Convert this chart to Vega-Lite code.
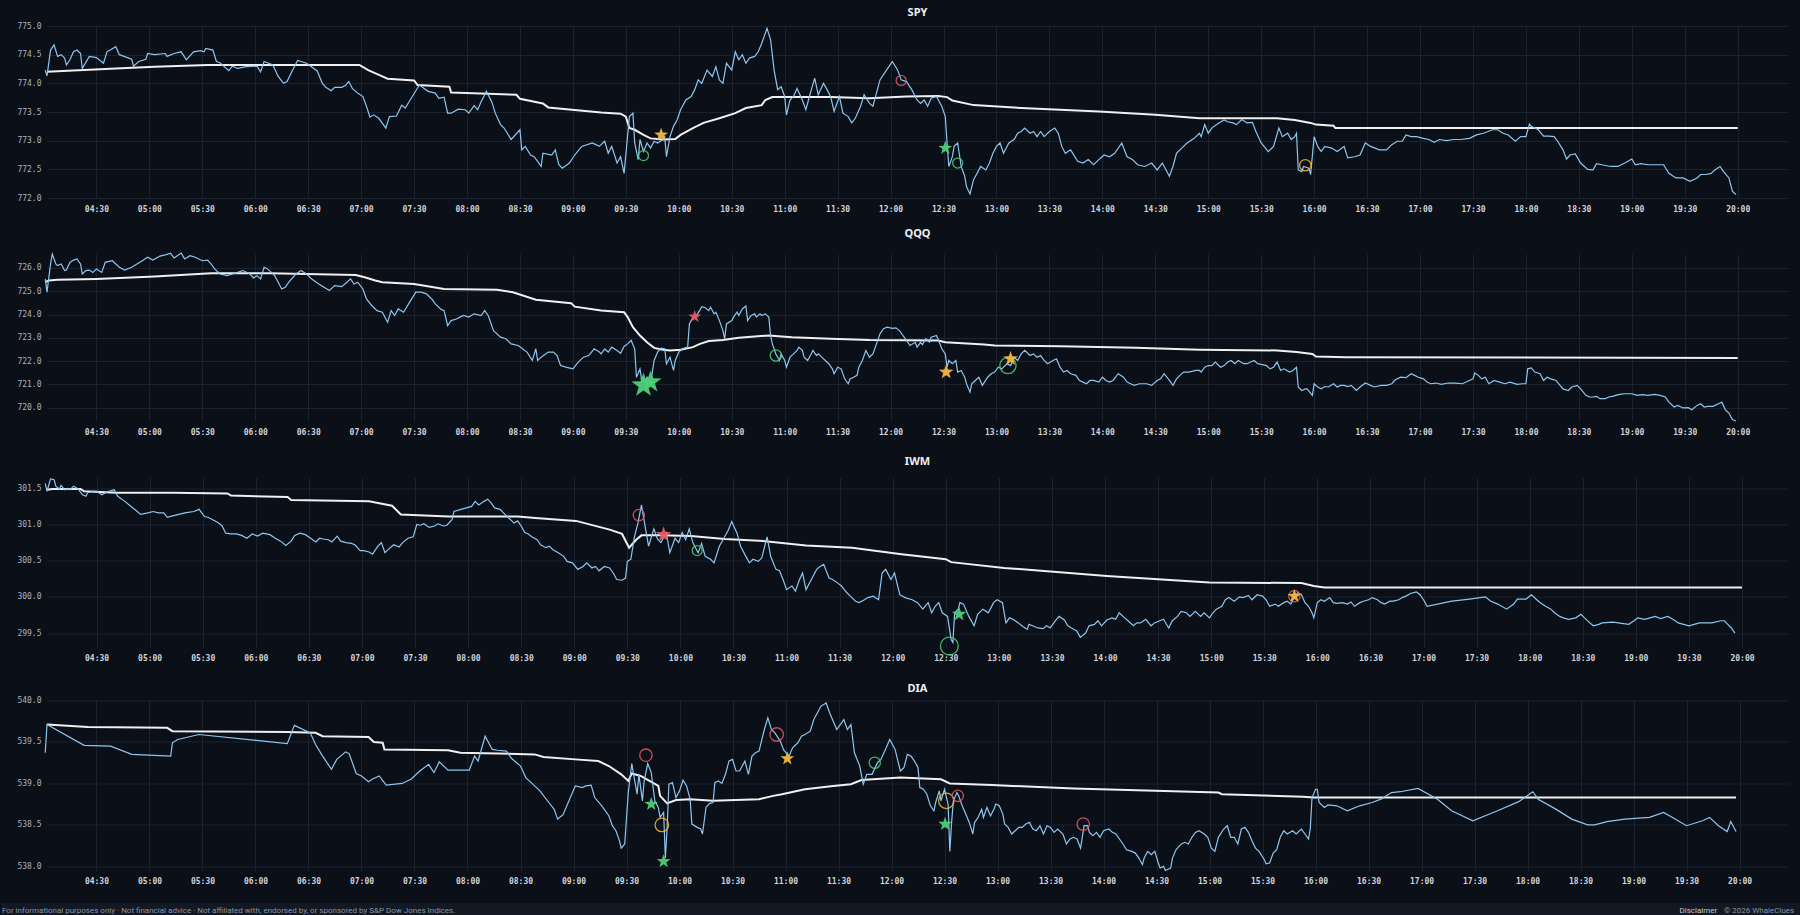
{
  "$schema": "https://vega.github.io/schema/vega-lite/v6.json",
  "background": "#0b0f18",
  "padding": {"left": 0, "top": 7, "right": 0, "bottom": 0},
  "spacing": 17,
  "datasets": {
    "spy": [
      {"m":241,"v":774.23},{"m":242,"v":774.13},{"m":244,"v":774.58},{"m":246,"v":774.67},{"m":248,"v":774.47},{"m":250,"v":774.50},{"m":252,"v":774.44},{"m":253,"v":774.32},{"m":255,"v":774.41},{"m":257,"v":774.55},{"m":259,"v":774.58},{"m":261,"v":774.52},{"m":262,"v":774.26},{"m":266,"v":774.47},{"m":270,"v":774.45},{"m":274,"v":774.35},{"m":276,"v":774.55},{"m":281,"v":774.64},{"m":283,"v":774.50},{"m":290,"v":774.42},{"m":291,"v":774.30},{"m":294,"v":774.38},{"m":298,"v":774.42},{"m":299,"v":774.52},{"m":303,"v":774.50},{"m":309,"v":774.52},{"m":310,"v":774.47},{"m":314,"v":774.52},{"m":318,"v":774.55},{"m":321,"v":774.41},{"m":325,"v":774.55},{"m":329,"v":774.57},{"m":331,"v":774.55},{"m":332,"v":774.61},{"m":336,"v":774.58},{"m":338,"v":774.38},{"m":340,"v":774.36},{"m":345,"v":774.22},{"m":347,"v":774.30},{"m":350,"v":774.26},{"m":355,"v":774.29},{"m":361,"v":774.30},{"m":363,"v":774.20},{"m":365,"v":774.38},{"m":370,"v":774.32},{"m":373,"v":774.12},{"m":376,"v":774.0},{"m":378,"v":774.03},{"m":381,"v":774.22},{"m":384,"v":774.40},{"m":389,"v":774.35},{"m":395,"v":774.22},{"m":396,"v":774.15},{"m":398,"v":774.0},{"m":400,"v":773.93},{"m":403,"v":773.87},{"m":405,"v":773.93},{"m":409,"v":773.93},{"m":411,"v":773.96},{"m":413,"v":774.03},{"m":415,"v":773.91},{"m":418,"v":773.83},{"m":421,"v":773.77},{"m":423,"v":773.60},{"m":425,"v":773.41},{"m":427,"v":773.45},{"m":430,"v":773.39},{"m":434,"v":773.22},{"m":436,"v":773.42},{"m":440,"v":773.43},{"m":443,"v":773.62},{"m":445,"v":773.57},{"m":449,"v":773.77},{"m":453,"v":773.97},{"m":458,"v":773.86},{"m":462,"v":773.83},{"m":464,"v":773.74},{"m":467,"v":773.76},{"m":469,"v":773.48},{"m":471,"v":773.48},{"m":475,"v":773.55},{"m":479,"v":773.54},{"m":481,"v":773.48},{"m":484,"v":773.61},{"m":486,"v":773.54},{"m":488,"v":773.68},{"m":491,"v":773.86},{"m":494,"v":773.68},{"m":496,"v":773.48},{"m":499,"v":773.28},{"m":501,"v":773.22},{"m":505,"v":773.02},{"m":510,"v":773.19},{"m":511,"v":772.84},{"m":513,"v":772.90},{"m":516,"v":772.75},{"m":518,"v":772.72},{"m":520,"v":772.64},{"m":522,"v":772.55},{"m":523,"v":772.78},{"m":528,"v":772.75},{"m":530,"v":772.84},{"m":532,"v":772.58},{"m":534,"v":772.52},{"m":538,"v":772.61},{"m":541,"v":772.75},{"m":545,"v":772.90},{"m":551,"v":772.96},{"m":555,"v":772.90},
      {"m":556,"v":772.93},{"m":558,"v":772.99},{"m":560,"v":772.78},{"m":562,"v":772.90},{"m":565,"v":772.61},{"m":567,"v":772.72},{"m":569,"v":772.43},{"m":572,"v":773.42},{"m":574,"v":773.48},{"m":575,"v":772.96},{"m":577,"v":772.67},{"m":578,"v":773.02},{"m":580,"v":772.81},{"m":582,"v":772.96},{"m":584,"v":772.87},{"m":586,"v":772.99},{"m":588,"v":772.96},{"m":591,"v":773.02},{"m":592,"v":773.07},{"m":593,"v":772.72},{"m":595,"v":773.07},{"m":597,"v":773.25},{"m":599,"v":773.36},{"m":601,"v":773.54},{"m":604,"v":773.71},{"m":607,"v":773.77},{"m":609,"v":773.89},{"m":611,"v":774.06},{"m":613,"v":774.0},{"m":616,"v":774.23},{"m":619,"v":774.12},{"m":621,"v":774.29},{"m":623,"v":774.06},{"m":625,"v":774.0},{"m":627,"v":774.35},{"m":630,"v":774.23},{"m":632,"v":774.55},{"m":634,"v":774.41},{"m":636,"v":774.50},{"m":638,"v":774.35},{"m":640,"v":774.44},{"m":643,"v":774.47},{"m":645,"v":774.55},{"m":647,"v":774.70},{"m":650,"v":774.96},{"m":652,"v":774.76},{"m":654,"v":774.23},{"m":656,"v":773.89},{"m":658,"v":773.94},{"m":660,"v":773.77},{"m":661,"v":773.45},{"m":663,"v":773.71},{"m":665,"v":773.77},{"m":667,"v":773.91},{"m":670,"v":773.71},{"m":672,"v":773.54},{"m":674,"v":773.77},{"m":677,"v":774.09},{"m":679,"v":773.80},{"m":682,"v":774.0},{"m":684,"v":773.89},{"m":686,"v":773.77},{"m":688,"v":773.51},{"m":691,"v":773.77},{"m":693,"v":773.48},{"m":696,"v":773.42},{"m":698,"v":773.31},{"m":700,"v":773.39},{"m":703,"v":773.60},{"m":705,"v":773.80},{"m":708,"v":773.65},{"m":710,"v":773.60},{"m":712,"v":773.83},{"m":714,"v":774.06},{"m":717,"v":774.20},{"m":721,"v":774.38},{"m":724,"v":774.23},{"m":726,"v":774.06},{"m":729,"v":774.03},{"m":732,"v":773.89},{"m":735,"v":773.71},{"m":737,"v":773.65},{"m":739,"v":773.71},{"m":741,"v":773.60},{"m":743,"v":773.74},{"m":746,"v":773.77},{"m":749,"v":773.60},{"m":751,"v":773.42},{"m":752,"v":772.96},{"m":753,"v":772.55},{"m":755,"v":772.72},{"m":756,"v":772.90},{"m":758,"v":772.96},{"m":760,"v":772.55},{"m":762,"v":772.38},{"m":763,"v":772.20},{"m":765,"v":772.07},{"m":767,"v":772.32},{"m":769,"v":772.43},{"m":771,"v":772.55},{"m":774,"v":772.49},{"m":776,"v":772.61},{"m":778,"v":772.78},{"m":780,"v":772.90},{"m":782,"v":772.96},{"m":784,"v":772.78},{"m":787,"v":772.96},{"m":790,"v":773.02},{"m":792,"v":773.13},{"m":794,"v":773.16},{"m":796,"v":773.22},{"m":799,"v":773.13},{"m":801,"v":773.16},{"m":803,"v":773.07},{"m":805,"v":773.16},{"m":807,"v":773.07},{"m":810,"v":773.16},{"m":813,"v":773.22},{"m":815,"v":773.13},{"m":817,"v":772.90},{"m":819,"v":772.78},{"m":822,"v":772.84},{"m":826,"v":772.64},{"m":829,"v":772.61},{"m":832,"v":772.67},{"m":835,"v":772.58},{"m":838,"v":772.67},{"m":841,"v":772.75},{"m":844,"v":772.72},{"m":847,"v":772.78},{"m":851,"v":772.96},{"m":854,"v":772.72},{"m":857,"v":772.67},{"m":860,"v":772.58},{"m":864,"v":772.55},{"m":868,"v":772.61},{"m":871,"v":772.49},{"m":874,"v":772.61},{"m":878,"v":772.38},{"m":880,"v":772.55},{"m":882,"v":772.78},{"m":885,"v":772.87},{"m":888,"v":772.96},{"m":892,"v":773.04},{"m":895,"v":773.13},
      {"m":896,"v":773.07},{"m":898,"v":773.28},{"m":900,"v":773.13},{"m":902,"v":773.22},{"m":906,"v":773.31},{"m":909,"v":773.36},{"m":911,"v":773.33},{"m":914,"v":773.31},{"m":916,"v":773.28},{"m":919,"v":773.37},{"m":922,"v":773.31},{"m":925,"v":773.32},{"m":927,"v":773.16},{"m":930,"v":772.96},{"m":934,"v":772.81},{"m":937,"v":772.90},{"m":940,"v":773.22},{"m":942,"v":773.07},{"m":945,"v":773.13},{"m":947,"v":773.02},{"m":949,"v":773.07},{"m":950,"v":773.13},{"m":951,"v":772.49},{"m":953,"v":772.46},{"m":954,"v":772.55},{"m":957,"v":772.52},{"m":958,"v":772.41},{"m":960,"v":773.07},{"m":962,"v":772.90},{"m":964,"v":772.81},{"m":966,"v":772.90},{"m":970,"v":772.87},{"m":973,"v":772.81},{"m":977,"v":772.90},{"m":979,"v":772.70},{"m":983,"v":772.72},{"m":986,"v":772.75},{"m":989,"v":772.96},{"m":992,"v":772.90},{"m":997,"v":772.84},{"m":1001,"v":772.84},{"m":1004,"v":772.93},{"m":1007,"v":772.99},{"m":1010,"v":772.99},{"m":1012,"v":773.10},{"m":1015,"v":773.07},{"m":1018,"v":773.07},{"m":1022,"v":773.04},{"m":1025,"v":773.02},{"m":1028,"v":772.97},{"m":1031,"v":773.02},{"m":1035,"v":773.00},{"m":1039,"v":773.02},{"m":1043,"v":773.02},{"m":1048,"v":773.04},{"m":1052,"v":773.10},{"m":1056,"v":773.13},{"m":1061,"v":773.19},{"m":1064,"v":773.19},{"m":1067,"v":773.13},{"m":1070,"v":773.10},{"m":1074,"v":772.99},{"m":1077,"v":773.07},{"m":1080,"v":773.07},{"m":1082,"v":773.29},{"m":1083,"v":773.25},{"m":1087,"v":773.19},{"m":1090,"v":773.08},{"m":1093,"v":773.08},{"m":1096,"v":773.07},{"m":1098,"v":772.99},{"m":1101,"v":772.84},{"m":1103,"v":772.68},{"m":1105,"v":772.75},{"m":1108,"v":772.77},{"m":1111,"v":772.61},{"m":1115,"v":772.50},{"m":1118,"v":772.49},{"m":1120,"v":772.60},{"m":1123,"v":772.58},{"m":1128,"v":772.55},{"m":1132,"v":772.55},{"m":1136,"v":772.61},{"m":1140,"v":772.68},{"m":1142,"v":772.58},{"m":1145,"v":772.60},{"m":1149,"v":772.58},{"m":1153,"v":772.58},{"m":1158,"v":772.58},{"m":1161,"v":772.43},{"m":1165,"v":772.35},{"m":1169,"v":772.35},{"m":1173,"v":772.29},{"m":1177,"v":772.35},{"m":1179,"v":772.41},{"m":1182,"v":772.41},{"m":1185,"v":772.43},{"m":1187,"v":772.49},{"m":1190,"v":772.55},{"m":1192,"v":772.46},{"m":1195,"v":772.35},{"m":1197,"v":772.12},{"m":1199,"v":772.06}
    ],
    "spyV": [
      {"m":242,"v":774.20},{"m":281,"v":774.26},{"m":303,"v":774.29},{"m":333,"v":774.32},{"m":419,"v":774.32},{"m":424,"v":774.23},{"m":432,"v":774.12},{"m":435,"v":774.08},{"m":450,"v":774.05},{"m":452,"v":773.97},{"m":470,"v":773.94},{"m":471,"v":773.84},{"m":508,"v":773.80},{"m":510,"v":773.73},{"m":523,"v":773.65},{"m":526,"v":773.58},{"m":556,"v":773.49},{"m":567,"v":773.47},{"m":570,"v":773.42},{"m":572,"v":773.22},{"m":575,"v":773.19},{"m":580,"v":773.10},{"m":584,"v":773.04},{"m":591,"v":773.02},{"m":598,"v":773.03},{"m":601,"v":773.10},{"m":608,"v":773.22},{"m":614,"v":773.31},{"m":623,"v":773.39},{"m":632,"v":773.48},{"m":638,"v":773.57},{"m":647,"v":773.62},{"m":649,"v":773.71},{"m":653,"v":773.76},{"m":686,"v":773.76},{"m":708,"v":773.74},{"m":729,"v":773.77},{"m":747,"v":773.78},{"m":752,"v":773.76},{"m":755,"v":773.70},{"m":767,"v":773.62},{"m":794,"v":773.57},{"m":838,"v":773.51},{"m":870,"v":773.45},{"m":895,"v":773.39},{"m":939,"v":773.39},{"m":949,"v":773.36},{"m":958,"v":773.31},{"m":961,"v":773.28},{"m":971,"v":773.26},{"m":972,"v":773.22},{"m":1200,"v":773.22}
    ],
    "spyS": [
      {"m":590,"v":773.10,"type":"star","side":"mixed","w":1.4},
      {"m":580,"v":772.74,"type":"circle","side":"bull","w":1},
      {"m":726,"v":774.05,"type":"circle","side":"bear","w":1},
      {"m":751,"v":772.87,"type":"star","side":"bull","w":1.4},
      {"m":758,"v":772.61,"type":"circle","side":"bull","w":1},
      {"m":955,"v":772.57,"type":"circle","side":"mixed","w":1.1}
    ],
    "qqq": [
      {"m":241,"v":725.53},{"m":242,"v":724.96},{"m":244,"v":726.17},{"m":245,"v":726.60},{"m":247,"v":726.17},{"m":248,"v":726.10},{"m":250,"v":726.17},{"m":252,"v":725.89},{"m":253,"v":725.91},{"m":255,"v":726.24},{"m":257,"v":726.34},{"m":259,"v":726.39},{"m":261,"v":726.17},{"m":262,"v":725.74},{"m":264,"v":725.89},{"m":266,"v":725.91},{"m":268,"v":725.81},{"m":270,"v":725.96},{"m":273,"v":725.81},{"m":275,"v":726.24},{"m":279,"v":726.31},{"m":281,"v":726.17},{"m":283,"v":726.03},{"m":286,"v":725.91},{"m":290,"v":726.03},{"m":293,"v":726.17},{"m":296,"v":726.31},{"m":299,"v":726.46},{"m":302,"v":726.34},{"m":306,"v":726.51},{"m":309,"v":726.56},{"m":312,"v":726.63},{"m":314,"v":726.43},{"m":318,"v":726.64},{"m":320,"v":726.39},{"m":323,"v":726.53},{"m":326,"v":726.46},{"m":330,"v":726.31},{"m":333,"v":726.34},{"m":335,"v":726.17},{"m":337,"v":725.96},{"m":340,"v":725.74},{"m":344,"v":725.67},{"m":347,"v":725.74},{"m":350,"v":725.81},{"m":353,"v":725.89},{"m":357,"v":725.74},{"m":359,"v":725.57},{"m":361,"v":725.67},{"m":363,"v":725.53},{"m":365,"v":726.03},{"m":367,"v":725.96},{"m":371,"v":725.67},{"m":373,"v":725.39},{"m":375,"v":725.10},{"m":377,"v":725.17},{"m":379,"v":725.39},{"m":383,"v":725.74},{"m":386,"v":725.89},{"m":389,"v":725.74},{"m":392,"v":725.53},{"m":396,"v":725.31},{"m":399,"v":725.17},{"m":402,"v":725.03},{"m":405,"v":725.24},{"m":409,"v":725.20},{"m":412,"v":725.39},{"m":414,"v":725.53},{"m":416,"v":725.31},{"m":418,"v":725.39},{"m":421,"v":725.10},{"m":423,"v":724.67},{"m":426,"v":724.39},{"m":429,"v":724.17},{"m":432,"v":724.10},{"m":435,"v":723.67},{"m":437,"v":724.17},{"m":439,"v":723.96},{"m":441,"v":724.24},{"m":444,"v":724.10},{"m":448,"v":724.60},{"m":451,"v":724.96},{"m":454,"v":724.96},{"m":457,"v":724.89},{"m":460,"v":724.67},{"m":462,"v":724.46},{"m":465,"v":724.24},{"m":467,"v":724.17},{"m":469,"v":723.53},{"m":471,"v":723.74},{"m":474,"v":723.81},{"m":476,"v":723.89},{"m":478,"v":723.96},{"m":481,"v":723.89},{"m":484,"v":724.03},{"m":488,"v":723.96},{"m":490,"v":724.17},{"m":492,"v":723.96},{"m":495,"v":723.31},{"m":499,"v":723.03},{"m":502,"v":722.96},{"m":505,"v":722.74},{"m":509,"v":722.67},{"m":514,"v":722.39},{"m":517,"v":722.03},{"m":519,"v":722.53},{"m":520,"v":722.03},{"m":522,"v":722.17},{"m":526,"v":722.39},{"m":529,"v":722.39},{"m":531,"v":722.24},{"m":533,"v":721.81},{"m":536,"v":721.74},{"m":540,"v":721.67},{"m":543,"v":721.96},{"m":546,"v":722.17},{"m":549,"v":722.24},{"m":552,"v":722.53},{"m":555,"v":722.39},
      {"m":556,"v":722.31},{"m":558,"v":722.53},{"m":560,"v":722.39},{"m":562,"v":722.60},{"m":565,"v":722.46},{"m":567,"v":722.34},{"m":569,"v":722.63},{"m":571,"v":722.74},{"m":573,"v":722.89},{"m":575,"v":722.53},{"m":576,"v":721.31},{"m":578,"v":721.67},{"m":579,"v":721.17},{"m":581,"v":721.10},{"m":582,"v":721.31},{"m":584,"v":721.03},{"m":586,"v":722.03},{"m":588,"v":722.39},{"m":590,"v":722.56},{"m":592,"v":722.53},{"m":593,"v":721.89},{"m":595,"v":722.17},{"m":597,"v":721.60},{"m":598,"v":722.03},{"m":600,"v":722.39},{"m":602,"v":722.53},{"m":605,"v":722.60},{"m":606,"v":723.60},{"m":608,"v":723.89},{"m":610,"v":723.96},{"m":612,"v":724.20},{"m":613,"v":724.34},{"m":615,"v":724.29},{"m":617,"v":724.17},{"m":618,"v":724.31},{"m":620,"v":724.03},{"m":621,"v":724.10},{"m":623,"v":723.74},{"m":625,"v":723.31},{"m":626,"v":722.96},{"m":627,"v":723.60},{"m":630,"v":723.74},{"m":631,"v":723.89},{"m":633,"v":724.10},{"m":634,"v":723.96},{"m":636,"v":724.24},{"m":638,"v":724.37},{"m":639,"v":723.74},{"m":641,"v":723.96},{"m":643,"v":724.03},{"m":644,"v":723.89},{"m":646,"v":724.03},{"m":647,"v":723.96},{"m":649,"v":724.03},{"m":651,"v":723.89},{"m":652,"v":723.10},{"m":653,"v":722.74},{"m":655,"v":722.31},{"m":657,"v":722.03},{"m":658,"v":722.31},{"m":660,"v":722.03},{"m":661,"v":721.74},{"m":663,"v":722.17},{"m":665,"v":722.31},{"m":667,"v":722.46},{"m":668,"v":722.60},{"m":670,"v":722.46},{"m":671,"v":722.17},{"m":673,"v":722.03},{"m":675,"v":722.31},{"m":676,"v":722.46},{"m":678,"v":722.24},{"m":679,"v":722.31},{"m":681,"v":722.17},{"m":683,"v":722.03},{"m":685,"v":721.89},{"m":687,"v":721.67},{"m":688,"v":721.46},{"m":690,"v":721.74},{"m":692,"v":721.67},{"m":694,"v":721.24},{"m":696,"v":721.03},{"m":697,"v":721.24},{"m":699,"v":721.31},{"m":701,"v":721.39},{"m":702,"v":721.74},{"m":704,"v":722.03},{"m":706,"v":722.46},{"m":708,"v":722.17},{"m":710,"v":722.31},{"m":712,"v":722.74},{"m":714,"v":723.17},{"m":716,"v":723.39},{"m":718,"v":723.46},{"m":721,"v":723.41},{"m":723,"v":723.43},{"m":725,"v":723.31},{"m":727,"v":723.10},{"m":729,"v":722.89},{"m":731,"v":722.67},{"m":734,"v":722.81},{"m":735,"v":722.60},{"m":737,"v":722.81},{"m":738,"v":722.71},{"m":740,"v":722.96},{"m":742,"v":722.81},{"m":743,"v":723.03},{"m":746,"v":723.10},{"m":748,"v":722.74},{"m":749,"v":722.53},{"m":751,"v":722.31},{"m":752,"v":721.74},{"m":753,"v":722.03},{"m":755,"v":721.89},{"m":757,"v":722.03},{"m":758,"v":721.53},{"m":760,"v":721.60},{"m":762,"v":721.31},{"m":763,"v":721.03},{"m":765,"v":720.67},{"m":766,"v":721.03},{"m":768,"v":721.17},{"m":770,"v":721.31},{"m":772,"v":720.96},{"m":775,"v":721.31},{"m":777,"v":721.46},{"m":779,"v":721.53},{"m":781,"v":721.74},{"m":783,"v":721.67},{"m":786,"v":721.89},{"m":788,"v":721.81},{"m":790,"v":722.17},{"m":792,"v":722.03},{"m":794,"v":722.31},{"m":796,"v":722.46},{"m":799,"v":722.24},{"m":801,"v":722.31},{"m":803,"v":722.17},{"m":805,"v":722.24},{"m":807,"v":722.03},{"m":809,"v":721.89},{"m":812,"v":722.03},{"m":814,"v":722.10},{"m":816,"v":721.74},{"m":818,"v":721.53},{"m":820,"v":721.60},{"m":822,"v":721.46},{"m":825,"v":721.39},{"m":827,"v":721.17},{"m":829,"v":721.10},{"m":831,"v":721.03},{"m":833,"v":721.17},{"m":835,"v":721.17},{"m":838,"v":721.10},{"m":840,"v":721.31},{"m":842,"v":721.17},{"m":844,"v":721.10},{"m":846,"v":721.17},{"m":849,"v":721.46},{"m":852,"v":721.31},{"m":854,"v":721.10},{"m":856,"v":721.03},{"m":858,"v":720.96},{"m":861,"v":721.03},{"m":865,"v":721.03},{"m":868,"v":720.96},{"m":871,"v":721.17},{"m":873,"v":721.24},{"m":875,"v":721.46},{"m":878,"v":721.17},{"m":880,"v":720.96},{"m":882,"v":721.24},{"m":884,"v":721.39},{"m":886,"v":721.53},{"m":889,"v":721.53},{"m":893,"v":721.60},{"m":895,"v":721.60},
      {"m":896,"v":721.53},{"m":898,"v":721.74},{"m":900,"v":721.81},{"m":902,"v":721.81},{"m":904,"v":721.96},{"m":907,"v":721.74},{"m":909,"v":721.81},{"m":911,"v":721.96},{"m":913,"v":722.03},{"m":915,"v":721.89},{"m":917,"v":722.03},{"m":920,"v":721.89},{"m":922,"v":721.89},{"m":924,"v":721.96},{"m":926,"v":722.03},{"m":928,"v":721.89},{"m":930,"v":721.86},{"m":933,"v":721.81},{"m":935,"v":721.67},{"m":937,"v":721.74},{"m":939,"v":721.96},{"m":941,"v":721.60},{"m":943,"v":721.67},{"m":946,"v":721.53},{"m":948,"v":721.60},{"m":950,"v":721.74},{"m":951,"v":720.89},{"m":953,"v":720.74},{"m":955,"v":720.81},{"m":956,"v":720.81},{"m":959,"v":720.53},{"m":960,"v":721.03},{"m":962,"v":720.89},{"m":964,"v":720.81},{"m":966,"v":720.91},{"m":968,"v":720.89},{"m":971,"v":721.03},{"m":973,"v":720.89},{"m":975,"v":720.96},{"m":977,"v":720.96},{"m":979,"v":720.91},{"m":981,"v":720.96},{"m":984,"v":720.74},{"m":986,"v":720.89},{"m":989,"v":721.06},{"m":992,"v":720.96},{"m":994,"v":720.89},{"m":998,"v":720.96},{"m":1001,"v":720.96},{"m":1004,"v":721.03},{"m":1006,"v":721.20},{"m":1009,"v":721.31},{"m":1012,"v":721.29},{"m":1015,"v":721.46},{"m":1017,"v":721.39},{"m":1019,"v":721.31},{"m":1022,"v":721.24},{"m":1024,"v":721.10},{"m":1026,"v":721.03},{"m":1029,"v":721.06},{"m":1032,"v":721.0},{"m":1036,"v":721.06},{"m":1040,"v":721.06},{"m":1044,"v":721.03},{"m":1048,"v":721.17},{"m":1050,"v":721.24},{"m":1051,"v":721.49},{"m":1053,"v":721.39},{"m":1055,"v":721.24},{"m":1057,"v":721.31},{"m":1059,"v":721.03},{"m":1062,"v":721.17},{"m":1065,"v":721.10},{"m":1068,"v":721.03},{"m":1071,"v":721.10},{"m":1075,"v":721.0},{"m":1078,"v":721.03},{"m":1080,"v":721.03},{"m":1081,"v":721.67},{"m":1083,"v":721.71},{"m":1085,"v":721.53},{"m":1088,"v":721.46},{"m":1090,"v":721.17},{"m":1092,"v":721.31},{"m":1094,"v":721.24},{"m":1097,"v":721.17},{"m":1101,"v":720.81},{"m":1104,"v":720.74},{"m":1106,"v":720.89},{"m":1109,"v":720.96},{"m":1111,"v":720.81},{"m":1114,"v":720.53},{"m":1116,"v":720.46},{"m":1118,"v":720.46},{"m":1120,"v":720.49},{"m":1122,"v":720.39},{"m":1125,"v":720.39},{"m":1127,"v":720.46},{"m":1129,"v":720.49},{"m":1131,"v":720.53},{"m":1133,"v":720.57},{"m":1136,"v":720.60},{"m":1140,"v":720.60},{"m":1143,"v":720.53},{"m":1146,"v":720.56},{"m":1149,"v":720.53},{"m":1153,"v":720.57},{"m":1156,"v":720.53},{"m":1159,"v":720.46},{"m":1161,"v":720.24},{"m":1164,"v":720.03},{"m":1166,"v":720.10},{"m":1169,"v":719.99},{"m":1172,"v":720.0},{"m":1174,"v":719.91},{"m":1177,"v":720.10},{"m":1179,"v":720.17},{"m":1181,"v":720.03},{"m":1183,"v":720.06},{"m":1186,"v":720.06},{"m":1190,"v":720.20},{"m":1191,"v":720.24},{"m":1193,"v":719.91},{"m":1195,"v":719.77},{"m":1197,"v":719.49},{"m":1199,"v":719.43}
    ],
    "qqqV": [
      {"m":241,"v":725.39},{"m":243,"v":725.46},{"m":248,"v":725.49},{"m":270,"v":725.53},{"m":303,"v":725.63},{"m":335,"v":725.77},{"m":368,"v":725.77},{"m":417,"v":725.70},{"m":422,"v":725.60},{"m":428,"v":725.46},{"m":432,"v":725.39},{"m":450,"v":725.31},{"m":467,"v":725.10},{"m":497,"v":725.06},{"m":506,"v":724.96},{"m":519,"v":724.64},{"m":539,"v":724.49},{"m":541,"v":724.34},{"m":556,"v":724.17},{"m":569,"v":724.10},{"m":571,"v":723.89},{"m":574,"v":723.46},{"m":578,"v":723.10},{"m":582,"v":722.81},{"m":586,"v":722.57},{"m":591,"v":722.49},{"m":595,"v":722.46},{"m":601,"v":722.49},{"m":608,"v":722.60},{"m":612,"v":722.74},{"m":617,"v":722.86},{"m":625,"v":722.91},{"m":634,"v":723.0},{"m":643,"v":723.06},{"m":651,"v":723.10},{"m":664,"v":723.03},{"m":686,"v":722.96},{"m":708,"v":722.91},{"m":747,"v":722.89},{"m":751,"v":722.81},{"m":773,"v":722.71},{"m":779,"v":722.67},{"m":816,"v":722.64},{"m":859,"v":722.57},{"m":895,"v":722.49},{"m":939,"v":722.46},{"m":950,"v":722.39},{"m":959,"v":722.31},{"m":961,"v":722.20},{"m":978,"v":722.17},{"m":1200,"v":722.14}
    ],
    "qqqS": [
      {"m":580,"v":720.96,"type":"star","side":"bull","w":3},
      {"m":584,"v":721.10,"type":"star","side":"bull","w":2.6},
      {"m":609,"v":723.91,"type":"star","side":"bear","w":1.3},
      {"m":655,"v":722.24,"type":"circle","side":"bull","w":1.1},
      {"m":751.5,"v":721.53,"type":"star","side":"mixed","w":1.5},
      {"m":786.5,"v":721.81,"type":"circle","side":"bull","w":1.6},
      {"m":788,"v":722.10,"type":"star","side":"mixed","w":1.5}
    ],
    "iwm": [
      {"m":241,"v":301.57},{"m":242,"v":301.46},{"m":244,"v":301.63},{"m":246,"v":301.62},{"m":247,"v":301.53},{"m":249,"v":301.49},{"m":250,"v":301.54},{"m":252,"v":301.48},{"m":254,"v":301.50},{"m":255,"v":301.48},{"m":257,"v":301.53},{"m":259,"v":301.50},{"m":260,"v":301.48},{"m":262,"v":301.41},{"m":264,"v":301.39},{"m":265,"v":301.44},{"m":268,"v":301.46},{"m":270,"v":301.46},{"m":273,"v":301.41},{"m":275,"v":301.44},{"m":277,"v":301.46},{"m":280,"v":301.48},{"m":282,"v":301.39},{"m":286,"v":301.32},{"m":289,"v":301.26},{"m":292,"v":301.20},{"m":295,"v":301.14},{"m":299,"v":301.16},{"m":302,"v":301.18},{"m":305,"v":301.16},{"m":308,"v":301.16},{"m":310,"v":301.10},{"m":313,"v":301.12},{"m":320,"v":301.16},{"m":325,"v":301.18},{"m":328,"v":301.21},{"m":331,"v":301.11},{"m":333,"v":301.10},{"m":337,"v":301.05},{"m":339,"v":301.02},{"m":341,"v":300.98},{"m":343,"v":300.88},{"m":346,"v":300.87},{"m":349,"v":300.87},{"m":352,"v":300.85},{"m":355,"v":300.81},{"m":358,"v":300.87},{"m":361,"v":300.84},{"m":364,"v":300.88},{"m":368,"v":300.86},{"m":371,"v":300.81},{"m":374,"v":300.77},{"m":377,"v":300.71},{"m":380,"v":300.77},{"m":382,"v":300.85},{"m":385,"v":300.88},{"m":388,"v":300.86},{"m":391,"v":300.81},{"m":394,"v":300.76},{"m":396,"v":300.81},{"m":398,"v":300.80},{"m":401,"v":300.79},{"m":403,"v":300.76},{"m":406,"v":300.84},{"m":408,"v":300.77},{"m":411,"v":300.75},{"m":414,"v":300.74},{"m":416,"v":300.72},{"m":419,"v":300.64},{"m":421,"v":300.64},{"m":424,"v":300.62},{"m":426,"v":300.59},{"m":429,"v":300.70},{"m":431,"v":300.75},{"m":433,"v":300.61},{"m":436,"v":300.68},{"m":438,"v":300.72},{"m":441,"v":300.69},{"m":443,"v":300.75},{"m":446,"v":300.81},{"m":449,"v":300.83},{"m":451,"v":301.0},{"m":453,"v":300.99},{"m":455,"v":301.01},{"m":458,"v":300.96},{"m":461,"v":300.98},{"m":463,"v":301.01},{"m":466,"v":300.98},{"m":468,"v":300.99},{"m":471,"v":301.07},{"m":472,"v":301.18},{"m":476,"v":301.21},{"m":479,"v":301.23},{"m":482,"v":301.25},{"m":484,"v":301.32},{"m":486,"v":301.27},{"m":489,"v":301.32},{"m":491,"v":301.35},{"m":493,"v":301.30},{"m":495,"v":301.23},{"m":498,"v":301.21},{"m":500,"v":301.16},{"m":503,"v":301.09},{"m":506,"v":301.02},{"m":508,"v":301.05},{"m":510,"v":300.98},{"m":512,"v":300.89},{"m":514,"v":300.87},{"m":516,"v":300.83},{"m":519,"v":300.79},{"m":521,"v":300.72},{"m":524,"v":300.68},{"m":526,"v":300.70},{"m":528,"v":300.65},{"m":531,"v":300.61},{"m":534,"v":300.56},{"m":536,"v":300.49},{"m":539,"v":300.47},{"m":542,"v":300.38},{"m":545,"v":300.42},{"m":547,"v":300.47},{"m":550,"v":300.40},{"m":552,"v":300.42},{"m":554,"v":300.36},{"m":557,"v":300.42},{"m":560,"v":300.40},{"m":562,"v":300.33},{"m":564,"v":300.24},{"m":567,"v":300.23},{"m":569,"v":300.26},{"m":570,"v":300.49},{"m":572,"v":300.52},{"m":574,"v":300.83},{"m":576,"v":301.02},{"m":578,"v":301.27},{"m":580,"v":300.98},{"m":582,"v":300.70},{"m":585,"v":300.94},{"m":587,"v":300.80},{"m":589,"v":300.75},{"m":592,"v":300.89},{"m":594,"v":300.61},{"m":597,"v":300.81},{"m":599,"v":300.75},{"m":601,"v":300.89},{"m":603,"v":300.79},{"m":605,"v":300.94},{"m":607,"v":300.75},{"m":610,"v":300.61},{"m":612,"v":300.74},{"m":614,"v":300.56},{"m":617,"v":300.52},{"m":619,"v":300.47},{"m":622,"v":300.70},{"m":625,"v":300.83},{"m":627,"v":300.92},{"m":629,"v":301.04},{"m":632,"v":300.88},{"m":634,"v":300.70},{"m":637,"v":300.56},{"m":639,"v":300.47},{"m":641,"v":300.52},{"m":644,"v":300.49},{"m":646,"v":300.54},{"m":649,"v":300.83},{"m":651,"v":300.56},{"m":654,"v":300.38},{"m":656,"v":300.36},{"m":658,"v":300.24},{"m":660,"v":300.10},{"m":663,"v":300.15},{"m":665,"v":300.08},{"m":667,"v":300.22},{"m":669,"v":300.33},{"m":671,"v":300.10},{"m":674,"v":300.24},{"m":677,"v":300.38},{"m":679,"v":300.42},{"m":681,"v":300.45},{"m":684,"v":300.26},{"m":686,"v":300.24},{"m":689,"v":300.19},{"m":691,"v":300.15},{"m":694,"v":300.06},{"m":696,"v":300.01},{"m":699,"v":299.94},{"m":701,"v":299.92},{"m":704,"v":299.96},{"m":706,"v":299.99},{"m":709,"v":300.01},{"m":712,"v":299.96},{"m":714,"v":300.33},{"m":716,"v":300.38},{"m":719,"v":300.24},{"m":721,"v":300.33},
      {"m":724,"v":300.03},{"m":727,"v":299.99},{"m":731,"v":299.96},{"m":734,"v":299.92},{"m":737,"v":299.83},{"m":740,"v":299.92},{"m":742,"v":299.78},{"m":744,"v":299.87},{"m":746,"v":299.92},{"m":748,"v":299.78},{"m":751,"v":299.73},{"m":753,"v":299.41},{"m":754,"v":299.37},{"m":755,"v":299.78},{"m":757,"v":299.83},{"m":758,"v":299.92},{"m":760,"v":299.90},{"m":763,"v":299.73},{"m":766,"v":299.60},{"m":768,"v":299.76},{"m":771,"v":299.83},{"m":774,"v":299.78},{"m":777,"v":299.92},{"m":779,"v":299.96},{"m":782,"v":299.92},{"m":784,"v":299.64},{"m":786,"v":299.71},{"m":788,"v":299.69},{"m":791,"v":299.64},{"m":793,"v":299.60},{"m":796,"v":299.55},{"m":797,"v":299.62},{"m":799,"v":299.60},{"m":802,"v":299.57},{"m":805,"v":299.56},{"m":807,"v":299.60},{"m":809,"v":299.57},{"m":812,"v":299.67},{"m":814,"v":299.73},{"m":817,"v":299.68},{"m":819,"v":299.60},{"m":821,"v":299.57},{"m":824,"v":299.53},{"m":826,"v":299.44},{"m":829,"v":299.50},{"m":831,"v":299.60},{"m":834,"v":299.62},{"m":836,"v":299.67},{"m":838,"v":299.60},{"m":841,"v":299.68},{"m":844,"v":299.71},{"m":846,"v":299.69},{"m":848,"v":299.78},{"m":851,"v":299.71},{"m":853,"v":299.67},{"m":856,"v":299.60},{"m":858,"v":299.64},{"m":860,"v":299.64},{"m":863,"v":299.69},{"m":866,"v":299.60},{"m":868,"v":299.64},{"m":871,"v":299.67},{"m":873,"v":299.69},{"m":876,"v":299.57},{"m":878,"v":299.67},{"m":881,"v":299.73},{"m":883,"v":299.80},{"m":886,"v":299.78},{"m":888,"v":299.73},{"m":891,"v":299.80},{"m":894,"v":299.73},{"m":896,"v":299.78},{"m":899,"v":299.71},{"m":901,"v":299.78},{"m":903,"v":299.83},{"m":906,"v":299.87},{"m":908,"v":299.96},{"m":910,"v":299.99},{"m":913,"v":299.94},{"m":916,"v":300.0},{"m":918,"v":299.99},{"m":921,"v":300.02},{"m":923,"v":299.96},{"m":926,"v":300.03},{"m":929,"v":300.01},{"m":931,"v":299.96},{"m":933,"v":299.87},{"m":936,"v":299.90},{"m":938,"v":299.87},{"m":941,"v":299.92},{"m":943,"v":299.94},{"m":945,"v":299.90},{"m":947,"v":299.99},{"m":949,"v":300.06},{"m":951,"v":300.03},{"m":953,"v":299.92},{"m":955,"v":299.87},{"m":957,"v":299.78},{"m":958,"v":299.71},{"m":960,"v":299.92},{"m":962,"v":299.96},{"m":964,"v":299.94},{"m":967,"v":299.99},{"m":969,"v":299.92},{"m":971,"v":299.91},{"m":974,"v":299.92},{"m":977,"v":299.90},{"m":979,"v":299.93},{"m":981,"v":299.87},{"m":984,"v":299.92},{"m":986,"v":299.94},{"m":989,"v":299.96},{"m":991,"v":299.99},{"m":994,"v":299.96},{"m":996,"v":299.92},{"m":998,"v":299.90},{"m":1001,"v":299.94},{"m":1003,"v":299.94},{"m":1006,"v":299.96},{"m":1008,"v":299.99},{"m":1010,"v":300.01},{"m":1013,"v":300.05},{"m":1016,"v":300.07},{"m":1018,"v":300.03},{"m":1020,"v":299.96},{"m":1022,"v":299.87},{"m":1036,"v":299.94},{"m":1046,"v":299.97},{"m":1052,"v":299.99},{"m":1055,"v":300.0},{"m":1058,"v":299.94},{"m":1062,"v":299.90},{"m":1067,"v":299.83},{"m":1071,"v":299.90},{"m":1073,"v":299.97},{"m":1078,"v":299.97},{"m":1081,"v":300.03},{"m":1084,"v":299.96},{"m":1086,"v":299.92},{"m":1089,"v":299.87},{"m":1092,"v":299.83},{"m":1094,"v":299.78},{"m":1097,"v":299.73},{"m":1099,"v":299.71},{"m":1102,"v":299.69},{"m":1106,"v":299.71},{"m":1109,"v":299.76},{"m":1111,"v":299.71},{"m":1114,"v":299.64},{"m":1116,"v":299.60},{"m":1119,"v":299.62},{"m":1121,"v":299.64},{"m":1127,"v":299.65},{"m":1133,"v":299.63},{"m":1136,"v":299.62},{"m":1139,"v":299.67},{"m":1141,"v":299.71},{"m":1145,"v":299.69},{"m":1148,"v":299.71},{"m":1151,"v":299.73},{"m":1154,"v":299.70},{"m":1158,"v":299.73},{"m":1161,"v":299.69},{"m":1164,"v":299.64},{"m":1167,"v":299.62},{"m":1170,"v":299.60},{"m":1173,"v":299.62},{"m":1176,"v":299.64},{"m":1179,"v":299.64},{"m":1183,"v":299.64},{"m":1188,"v":299.67},{"m":1190,"v":299.67},{"m":1192,"v":299.62},{"m":1194,"v":299.57},{"m":1196,"v":299.50}
    ],
    "iwmV": [
      {"m":242,"v":301.48},{"m":245,"v":301.49},{"m":261,"v":301.49},{"m":263,"v":301.46},{"m":281,"v":301.44},{"m":313,"v":301.44},{"m":344,"v":301.43},{"m":346,"v":301.40},{"m":378,"v":301.38},{"m":380,"v":301.34},{"m":424,"v":301.32},{"m":437,"v":301.26},{"m":442,"v":301.14},{"m":469,"v":301.11},{"m":508,"v":301.11},{"m":518,"v":301.09},{"m":541,"v":301.05},{"m":560,"v":300.93},{"m":567,"v":300.87},{"m":571,"v":300.68},{"m":575,"v":300.79},{"m":578,"v":300.85},{"m":589,"v":300.85},{"m":606,"v":300.84},{"m":625,"v":300.80},{"m":648,"v":300.77},{"m":671,"v":300.71},{"m":697,"v":300.68},{"m":725,"v":300.59},{"m":750,"v":300.52},{"m":753,"v":300.48},{"m":783,"v":300.40},{"m":841,"v":300.29},{"m":899,"v":300.20},{"m":951,"v":300.19},{"m":958,"v":300.15},{"m":964,"v":300.13},{"m":1200,"v":300.13}
    ],
    "iwmS": [
      {"m":576.5,"v":301.13,"type":"circle","side":"bear","w":1.1},
      {"m":590.5,"v":300.86,"type":"star","side":"bear","w":1.6},
      {"m":609.5,"v":300.64,"type":"circle","side":"bull","w":1},
      {"m":752,"v":299.32,"type":"circle","side":"bull","w":1.8},
      {"m":757.5,"v":299.76,"type":"star","side":"bull","w":1.5},
      {"m":947,"v":300.01,"type":"circle","side":"bear","w":1.1},
      {"m":947,"v":300.01,"type":"star","side":"mixed","w":1.4}
    ],
    "dia": [
      {"m":241,"v":539.37},{"m":242,"v":539.71},{"m":263,"v":539.46},{"m":278,"v":539.45},{"m":290,"v":539.35},{"m":312,"v":539.33},{"m":313,"v":539.49},{"m":316,"v":539.53},{"m":328,"v":539.59},{"m":378,"v":539.48},{"m":382,"v":539.70},{"m":391,"v":539.61},{"m":394,"v":539.47},{"m":398,"v":539.33},{"m":403,"v":539.17},{"m":406,"v":539.29},{"m":411,"v":539.38},{"m":413,"v":539.36},{"m":417,"v":539.12},{"m":420,"v":539.09},{"m":424,"v":539.02},{"m":426,"v":539.05},{"m":430,"v":539.09},{"m":434,"v":538.98},{"m":443,"v":539.0},{"m":448,"v":539.05},{"m":453,"v":539.15},{"m":458,"v":539.23},{"m":461,"v":539.13},{"m":464,"v":539.26},{"m":469,"v":539.16},{"m":481,"v":539.16},{"m":484,"v":539.33},{"m":486,"v":539.27},{"m":490,"v":539.57},{"m":494,"v":539.41},{"m":497,"v":539.40},{"m":502,"v":539.39},{"m":505,"v":539.30},{"m":510,"v":539.21},{"m":513,"v":539.07},{"m":516,"v":539.01},{"m":521,"v":538.91},{"m":526,"v":538.77},{"m":529,"v":538.69},{"m":531,"v":538.57},{"m":534,"v":538.62},{"m":537,"v":538.77},{"m":541,"v":538.97},{"m":545,"v":538.95},{"m":547,"v":538.97},{"m":550,"v":538.98},{"m":552,"v":538.83},{"m":556,"v":538.73},{"m":560,"v":538.61},{"m":562,"v":538.49},{"m":564,"v":538.43},{"m":566,"v":538.31},{"m":567,"v":538.22},{"m":569,"v":538.27},{"m":571,"v":538.89},{"m":573,"v":539.24},{"m":574,"v":539.11},{"m":576,"v":538.87},{"m":577,"v":539.11},{"m":579,"v":538.79},{"m":580,"v":539.03},{"m":582,"v":539.24},{"m":584,"v":539.13},{"m":586,"v":538.79},{"m":588,"v":538.71},{"m":589,"v":538.59},{"m":591,"v":538.65},{"m":592,"v":538.10},{"m":593,"v":538.47},{"m":594,"v":538.99},{"m":596,"v":539.01},{"m":598,"v":538.83},{"m":600,"v":538.91},{"m":602,"v":539.04},{"m":604,"v":538.97},{"m":606,"v":538.81},{"m":607,"v":538.51},{"m":610,"v":538.47},{"m":612,"v":538.45},{"m":613,"v":538.39},{"m":615,"v":538.71},{"m":617,"v":538.76},{"m":619,"v":538.77},{"m":620,"v":539.01},{"m":622,"v":539.03},{"m":624,"v":539.0},{"m":626,"v":539.11},{"m":628,"v":539.27},{"m":630,"v":539.29},{"m":632,"v":539.15},{"m":634,"v":539.15},{"m":637,"v":539.27},{"m":639,"v":539.11},{"m":641,"v":539.33},{"m":643,"v":539.37},{"m":645,"v":539.39},{"m":648,"v":539.65},{"m":650,"v":539.79},{"m":652,"v":539.65},{"m":654,"v":539.61},{"m":657,"v":539.51},{"m":659,"v":539.40},{"m":662,"v":539.33},{"m":664,"v":539.43},{"m":667,"v":539.49},{"m":669,"v":539.57},{"m":671,"v":539.59},{"m":674,"v":539.63},{"m":676,"v":539.77},{"m":678,"v":539.85},{"m":680,"v":539.93},{"m":683,"v":539.97},{"m":685,"v":539.85},{"m":687,"v":539.75},{"m":689,"v":539.65},{"m":691,"v":539.71},{"m":693,"v":539.77},{"m":695,"v":539.65},{"m":697,"v":539.71},{"m":699,"v":539.37},{"m":702,"v":539.21},{"m":704,"v":538.99},{"m":706,"v":539.11},{"m":709,"v":539.11},{"m":712,"v":539.25},{"m":714,"v":539.29},{"m":717,"v":539.43},{"m":719,"v":539.53},{"m":722,"v":539.41},
      {"m":725,"v":539.15},{"m":727,"v":539.19},{"m":729,"v":539.35},{"m":731,"v":539.33},{"m":733,"v":539.27},{"m":735,"v":539.19},{"m":736,"v":538.95},{"m":738,"v":538.93},{"m":740,"v":538.87},{"m":742,"v":538.73},{"m":744,"v":538.67},{"m":745,"v":538.77},{"m":747,"v":538.91},{"m":748,"v":538.79},{"m":750,"v":538.93},{"m":752,"v":538.75},{"m":753,"v":538.18},{"m":754,"v":538.53},{"m":755,"v":538.79},{"m":757,"v":538.89},{"m":758,"v":538.85},{"m":760,"v":538.73},{"m":762,"v":538.63},{"m":764,"v":538.53},{"m":766,"v":538.39},{"m":767,"v":538.53},{"m":769,"v":538.59},{"m":771,"v":538.69},{"m":772,"v":538.59},{"m":774,"v":538.71},{"m":776,"v":538.61},{"m":778,"v":538.69},{"m":779,"v":538.75},{"m":781,"v":538.73},{"m":783,"v":538.63},{"m":784,"v":538.51},{"m":786,"v":538.47},{"m":788,"v":538.39},{"m":790,"v":538.43},{"m":792,"v":538.47},{"m":794,"v":538.47},{"m":796,"v":538.51},{"m":798,"v":538.53},{"m":800,"v":538.45},{"m":802,"v":538.43},{"m":804,"v":538.49},{"m":806,"v":538.39},{"m":808,"v":538.49},{"m":810,"v":538.47},{"m":812,"v":538.41},{"m":814,"v":538.45},{"m":817,"v":538.39},{"m":819,"v":538.27},{"m":821,"v":538.33},{"m":823,"v":538.35},{"m":825,"v":538.33},{"m":827,"v":538.22},{"m":829,"v":538.49},{"m":831,"v":538.49},{"m":832,"v":538.41},{"m":834,"v":538.37},{"m":836,"v":538.41},{"m":838,"v":538.35},{"m":840,"v":538.43},{"m":843,"v":538.45},{"m":845,"v":538.41},{"m":847,"v":538.39},{"m":849,"v":538.33},{"m":851,"v":538.27},{"m":853,"v":538.20},{"m":856,"v":538.18},{"m":858,"v":538.16},{"m":860,"v":538.10},{"m":862,"v":538.02},{"m":863,"v":538.10},{"m":865,"v":538.18},{"m":867,"v":538.14},{"m":869,"v":538.18},{"m":871,"v":538.04},{"m":872,"v":537.98},{"m":874,"v":538.0},{"m":875,"v":537.95},{"m":878,"v":537.98},{"m":879,"v":538.10},{"m":881,"v":538.20},{"m":884,"v":538.27},{"m":886,"v":538.29},{"m":888,"v":538.27},{"m":890,"v":538.35},{"m":892,"v":538.41},{"m":894,"v":538.43},{"m":897,"v":538.39},{"m":899,"v":538.35},{"m":901,"v":538.22},{"m":903,"v":538.18},{"m":905,"v":538.35},{"m":908,"v":538.45},{"m":910,"v":538.49},{"m":912,"v":538.35},{"m":914,"v":538.35},{"m":916,"v":538.27},{"m":918,"v":538.45},{"m":920,"v":538.47},{"m":922,"v":538.41},{"m":924,"v":538.31},{"m":926,"v":538.22},{"m":928,"v":538.18},{"m":931,"v":538.08},{"m":932,"v":538.03},{"m":934,"v":538.04},{"m":936,"v":538.16},{"m":938,"v":538.20},{"m":940,"v":538.35},{"m":942,"v":538.43},{"m":944,"v":538.39},{"m":947,"v":538.43},{"m":949,"v":538.39},{"m":952,"v":538.45},{"m":954,"v":538.39},{"m":956,"v":538.33},{"m":957,"v":538.45},{"m":958,"v":538.83},{"m":960,"v":538.93},{"m":961,"v":538.93},{"m":962,"v":538.77},{"m":965,"v":538.71},{"m":967,"v":538.74},{"m":972,"v":538.73},{"m":978,"v":538.67},{"m":985,"v":538.73},{"m":992,"v":538.77},{"m":997,"v":538.81},{"m":1003,"v":538.89},{"m":1008,"v":538.90},{"m":1018,"v":538.94},{"m":1029,"v":538.81},{"m":1037,"v":538.67},{"m":1049,"v":538.55},{"m":1063,"v":538.67},{"m":1075,"v":538.78},{"m":1083,"v":538.90},{"m":1086,"v":538.81},{"m":1096,"v":538.69},{"m":1105,"v":538.57},{"m":1114,"v":538.50},{"m":1118,"v":538.50},{"m":1125,"v":538.54},{"m":1135,"v":538.57},{"m":1149,"v":538.59},{"m":1157,"v":538.65},{"m":1162,"v":538.59},{"m":1170,"v":538.49},{"m":1179,"v":538.55},{"m":1183,"v":538.59},{"m":1188,"v":538.49},{"m":1193,"v":538.42},{"m":1195,"v":538.54},{"m":1198,"v":538.42}
    ],
    "diaV": [
      {"m":242,"v":539.71},{"m":265,"v":539.68},{"m":310,"v":539.67},{"m":313,"v":539.63},{"m":378,"v":539.62},{"m":394,"v":539.61},{"m":398,"v":539.57},{"m":424,"v":539.56},{"m":427,"v":539.50},{"m":432,"v":539.49},{"m":433,"v":539.41},{"m":469,"v":539.40},{"m":476,"v":539.37},{"m":518,"v":539.35},{"m":523,"v":539.32},{"m":541,"v":539.29},{"m":554,"v":539.27},{"m":560,"v":539.21},{"m":567,"v":539.11},{"m":571,"v":539.03},{"m":573,"v":539.12},{"m":578,"v":539.09},{"m":583,"v":539.03},{"m":588,"v":538.97},{"m":589,"v":538.85},{"m":593,"v":538.76},{"m":598,"v":538.80},{"m":606,"v":538.81},{"m":619,"v":538.79},{"m":645,"v":538.81},{"m":653,"v":538.85},{"m":658,"v":538.87},{"m":671,"v":538.93},{"m":687,"v":538.97},{"m":697,"v":538.99},{"m":703,"v":539.04},{"m":725,"v":539.07},{"m":748,"v":539.05},{"m":753,"v":539.0},{"m":777,"v":538.98},{"m":823,"v":538.94},{"m":905,"v":538.89},{"m":907,"v":538.87},{"m":953,"v":538.84},{"m":959,"v":538.83},{"m":1198,"v":538.83}
    ],
    "diaS": [
      {"m":581,"v":539.34,"type":"circle","side":"bear","w":1.2},
      {"m":584,"v":538.75,"type":"star","side":"bull","w":1.4},
      {"m":590,"v":538.50,"type":"circle","side":"mixed","w":1.3},
      {"m":591,"v":538.06,"type":"star","side":"bull","w":1.4},
      {"m":655,"v":539.59,"type":"circle","side":"bear","w":1.3},
      {"m":661,"v":539.30,"type":"star","side":"mixed","w":1.4},
      {"m":710.5,"v":539.25,"type":"circle","side":"bull","w":1.1},
      {"m":751,"v":538.79,"type":"circle","side":"mixed","w":1.5},
      {"m":757.5,"v":538.85,"type":"circle","side":"bear","w":1.1},
      {"m":750.3,"v":538.51,"type":"star","side":"bull","w":1.4},
      {"m":828.5,"v":538.51,"type":"circle","side":"bear","w":1.2}
    ]
  },
  "vconcat": [
    {
      "spacing": 19.5,
      "vconcat": [
        {
          "spacing": 19.5,
          "vconcat": [
            {
              "spacing": 14,
              "vconcat": [
                {
                  "width": 1741, "height": 172,
                  "title": {"text": "SPY", "offset": 4},
                  "encoding": {
                    "x": {"field": "m", "type": "quantitative", "scale": {"domain": [242, 1228.5]}, "axis": {"title": null, "values": [270,300,330,360,390,420,450,480,510,540,570,600,630,660,690,720,750,780,810,840,870,900,930,960,990,1020,1050,1080,1110,1140,1170,1200], "labelExpr": "format(floor(datum.value/60),'02d') + ':' + format(datum.value%60,'02d')", "labelPadding": 7, "labelColor": "#cfd3da", "labelFontWeight": "bold"}},
                    "y": {"field": "v", "type": "quantitative", "scale": {"domain": [772, 775], "zero": false, "nice": false}, "axis": {"title": null, "values": [772,772.5,773,773.5,774,774.5,775], "format": ".1f", "labelPadding": 6, "labelColor": "#aab2be"}}
                  },
                  "layer": [
                    {"data": {"values": [{}]}, "mark": {"type": "text", "text": "W H A L E C L U E S", "angle": 339, "fontSize": 22, "font": "Noto Sans", "color": "#161d29"}, "encoding": {"x": {"datum": 735}, "y": {"datum": 773.6}}},
                    {"data": {"values": [{}]}, "mark": {"type": "text", "text": "whaleclues.com", "align": "right", "baseline": "top", "dy": 4, "fontSize": 8, "font": "Noto Sans", "color": "#1d2431"}, "encoding": {"x": {"datum": 1224}, "y": {"datum": 775}}},
                    {"data": {"name": "spyV"}, "mark": {"type": "line", "color": "#f0f0f0", "strokeWidth": 2}},
                    {"data": {"name": "spy"}, "mark": {"type": "line", "color": "#8ec6ee", "strokeWidth": 1.2}},
                    {"data": {"name": "spyS"}, "transform": [{"filter": "datum.type === 'circle'"}], "mark": {"type": "point", "shape": "circle", "filled": false, "strokeWidth": 1.3, "opacity": 0.85}, "encoding": {"color": {"field": "side", "type": "nominal", "scale": {"domain": ["bull","bear","mixed"], "range": ["#4fcf7a","#e35d68","#f5b83d"]}, "legend": null}, "size": {"field": "w", "type": "quantitative", "scale": {"domain": [1, 3], "range": [100, 650]}, "legend": null}}},
                    {"data": {"name": "spyS"}, "transform": [{"filter": "datum.type === 'star'"}], "mark": {"type": "point", "shape": "M0,-1L0.235,-0.324L0.951,-0.309L0.38,0.124L0.588,0.809L0,0.4L-0.588,0.809L-0.38,0.124L-0.951,-0.309L-0.235,-0.324Z", "filled": true, "opacity": 0.95}, "encoding": {"color": {"field": "side", "type": "nominal", "scale": {"domain": ["bull","bear","mixed"], "range": ["#4fcf7a","#e35d68","#f5b83d"]}, "legend": null}, "size": {"field": "w", "type": "quantitative", "scale": {"domain": [1, 3], "range": [100, 650]}, "legend": null}}}
                  ]
                },
                {
                  "width": 1741, "height": 167,
                  "title": {"text": "QQQ", "offset": 12},
                  "encoding": {
                    "x": {"field": "m", "type": "quantitative", "scale": {"domain": [242, 1228.5]}, "axis": {"title": null, "values": [270,300,330,360,390,420,450,480,510,540,570,600,630,660,690,720,750,780,810,840,870,900,930,960,990,1020,1050,1080,1110,1140,1170,1200], "labelExpr": "format(floor(datum.value/60),'02d') + ':' + format(datum.value%60,'02d')", "labelPadding": 7, "labelColor": "#cfd3da", "labelFontWeight": "bold"}},
                    "y": {"field": "v", "type": "quantitative", "scale": {"domain": [719.43, 726.6], "zero": false, "nice": false}, "axis": {"title": null, "values": [720,721,722,723,724,725,726], "format": ".1f", "labelPadding": 6, "labelColor": "#aab2be"}}
                  },
                  "layer": [
                    {"data": {"values": [{}]}, "mark": {"type": "text", "text": "W H A L E C L U E S", "angle": 339, "fontSize": 22, "font": "Noto Sans", "color": "#161d29"}, "encoding": {"x": {"datum": 735}, "y": {"datum": 723.5}}},
                    {"data": {"values": [{}]}, "mark": {"type": "text", "text": "whaleclues.com", "align": "right", "baseline": "top", "dy": 4, "fontSize": 8, "font": "Noto Sans", "color": "#1d2431"}, "encoding": {"x": {"datum": 1224}, "y": {"datum": 726.6}}},
                    {"data": {"name": "qqqV"}, "mark": {"type": "line", "color": "#f0f0f0", "strokeWidth": 2}},
                    {"data": {"name": "qqq"}, "mark": {"type": "line", "color": "#8ec6ee", "strokeWidth": 1.2}},
                    {"data": {"name": "qqqS"}, "transform": [{"filter": "datum.type === 'circle'"}], "mark": {"type": "point", "shape": "circle", "filled": false, "strokeWidth": 1.3, "opacity": 0.85}, "encoding": {"color": {"field": "side", "type": "nominal", "scale": {"domain": ["bull","bear","mixed"], "range": ["#4fcf7a","#e35d68","#f5b83d"]}, "legend": null}, "size": {"field": "w", "type": "quantitative", "scale": {"domain": [1, 3], "range": [100, 650]}, "legend": null}}},
                    {"data": {"name": "qqqS"}, "transform": [{"filter": "datum.type === 'star'"}], "mark": {"type": "point", "shape": "M0,-1L0.235,-0.324L0.951,-0.309L0.38,0.124L0.588,0.809L0,0.4L-0.588,0.809L-0.38,0.124L-0.951,-0.309L-0.235,-0.324Z", "filled": true, "opacity": 0.95}, "encoding": {"color": {"field": "side", "type": "nominal", "scale": {"domain": ["bull","bear","mixed"], "range": ["#4fcf7a","#e35d68","#f5b83d"]}, "legend": null}, "size": {"field": "w", "type": "quantitative", "scale": {"domain": [1, 3], "range": [100, 650]}, "legend": null}}}
                  ]
                }
              ]
            },
            {
              "width": 1741, "height": 170,
              "title": {"text": "IWM", "offset": 9.5},
              "encoding": {
                "x": {"field": "m", "type": "quantitative", "scale": {"domain": [242, 1226]}, "axis": {"title": null, "values": [270,300,330,360,390,420,450,480,510,540,570,600,630,660,690,720,750,780,810,840,870,900,930,960,990,1020,1050,1080,1110,1140,1170,1200], "labelExpr": "format(floor(datum.value/60),'02d') + ':' + format(datum.value%60,'02d')", "labelPadding": 7, "labelColor": "#cfd3da", "labelFontWeight": "bold"}},
                "y": {"field": "v", "type": "quantitative", "scale": {"domain": [299.3, 301.65], "zero": false, "nice": false}, "axis": {"title": null, "values": [299.5,300,300.5,301,301.5], "format": ".1f", "labelPadding": 6, "labelColor": "#aab2be"}}
              },
              "layer": [
                {"data": {"values": [{}]}, "mark": {"type": "text", "text": "W H A L E C L U E S", "angle": 339, "fontSize": 22, "font": "Noto Sans", "color": "#161d29"}, "encoding": {"x": {"datum": 735}, "y": {"datum": 300.9}}},
                {"data": {"values": [{}]}, "mark": {"type": "text", "text": "whaleclues.com", "align": "right", "baseline": "top", "dy": 4, "fontSize": 8, "font": "Noto Sans", "color": "#1d2431"}, "encoding": {"x": {"datum": 1222}, "y": {"datum": 301.65}}},
                {"data": {"name": "iwmV"}, "mark": {"type": "line", "color": "#f0f0f0", "strokeWidth": 2}},
                {"data": {"name": "iwm"}, "mark": {"type": "line", "color": "#8ec6ee", "strokeWidth": 1.2}},
                {"data": {"name": "iwmS"}, "transform": [{"filter": "datum.type === 'circle'"}], "mark": {"type": "point", "shape": "circle", "filled": false, "strokeWidth": 1.3, "opacity": 0.85}, "encoding": {"color": {"field": "side", "type": "nominal", "scale": {"domain": ["bull","bear","mixed"], "range": ["#4fcf7a","#e35d68","#f5b83d"]}, "legend": null}, "size": {"field": "w", "type": "quantitative", "scale": {"domain": [1, 3], "range": [100, 650]}, "legend": null}}},
                {"data": {"name": "iwmS"}, "transform": [{"filter": "datum.type === 'star'"}], "mark": {"type": "point", "shape": "M0,-1L0.235,-0.324L0.951,-0.309L0.38,0.124L0.588,0.809L0,0.4L-0.588,0.809L-0.38,0.124L-0.951,-0.309L-0.235,-0.324Z", "filled": true, "opacity": 0.95}, "encoding": {"color": {"field": "side", "type": "nominal", "scale": {"domain": ["bull","bear","mixed"], "range": ["#4fcf7a","#e35d68","#f5b83d"]}, "legend": null}, "size": {"field": "w", "type": "quantitative", "scale": {"domain": [1, 3], "range": [100, 650]}, "legend": null}}}
              ]
            }
          ]
        },
        {
          "width": 1741, "height": 170,
          "title": {"text": "DIA", "offset": 2.5},
          "encoding": {
            "x": {"field": "m", "type": "quantitative", "scale": {"domain": [242, 1227.4]}, "axis": {"title": null, "values": [270,300,330,360,390,420,450,480,510,540,570,600,630,660,690,720,750,780,810,840,870,900,930,960,990,1020,1050,1080,1110,1140,1170,1200], "labelExpr": "format(floor(datum.value/60),'02d') + ':' + format(datum.value%60,'02d')", "labelPadding": 7, "labelColor": "#cfd3da", "labelFontWeight": "bold"}},
            "y": {"field": "v", "type": "quantitative", "scale": {"domain": [537.95, 540.0], "zero": false, "nice": false}, "axis": {"title": null, "values": [538,538.5,539,539.5,540], "format": ".1f", "labelPadding": 6, "labelColor": "#aab2be"}}
          },
          "layer": [
            {"data": {"values": [{}]}, "mark": {"type": "text", "text": "W H A L E C L U E S", "angle": 339, "fontSize": 22, "font": "Noto Sans", "color": "#161d29"}, "encoding": {"x": {"datum": 735}, "y": {"datum": 539.2}}},
            {"data": {"values": [{}]}, "mark": {"type": "text", "text": "whaleclues.com", "align": "right", "baseline": "top", "dy": 4, "fontSize": 8, "font": "Noto Sans", "color": "#1d2431"}, "encoding": {"x": {"datum": 1223}, "y": {"datum": 540.0}}},
            {"data": {"name": "diaV"}, "mark": {"type": "line", "color": "#f0f0f0", "strokeWidth": 2}},
            {"data": {"name": "dia"}, "mark": {"type": "line", "color": "#8ec6ee", "strokeWidth": 1.2}},
            {"data": {"name": "diaS"}, "transform": [{"filter": "datum.type === 'circle'"}], "mark": {"type": "point", "shape": "circle", "filled": false, "strokeWidth": 1.3, "opacity": 0.85}, "encoding": {"color": {"field": "side", "type": "nominal", "scale": {"domain": ["bull","bear","mixed"], "range": ["#4fcf7a","#e35d68","#f5b83d"]}, "legend": null}, "size": {"field": "w", "type": "quantitative", "scale": {"domain": [1, 3], "range": [100, 650]}, "legend": null}}},
            {"data": {"name": "diaS"}, "transform": [{"filter": "datum.type === 'star'"}], "mark": {"type": "point", "shape": "M0,-1L0.235,-0.324L0.951,-0.309L0.38,0.124L0.588,0.809L0,0.4L-0.588,0.809L-0.38,0.124L-0.951,-0.309L-0.235,-0.324Z", "filled": true, "opacity": 0.95}, "encoding": {"color": {"field": "side", "type": "nominal", "scale": {"domain": ["bull","bear","mixed"], "range": ["#4fcf7a","#e35d68","#f5b83d"]}, "legend": null}, "size": {"field": "w", "type": "quantitative", "scale": {"domain": [1, 3], "range": [100, 650]}, "legend": null}}}
          ]
        }
      ]
    },
    {
      "width": 1741, "height": 16,
      "data": {"values": [{}]},
      "encoding": {
        "x": {"datum": 242, "type": "quantitative", "scale": {"domain": [242, 1228.5]}, "axis": null}
      },
      "layer": [
        {"mark": {"type": "rect", "color": "#121925"}, "encoding": {"x": {"datum": 215.93, "type": "quantitative"}, "x2": {"datum": 1236}}},
        {"mark": {"type": "text", "text": "For informational purposes only · Not financial advice · Not affiliated with, endorsed by, or sponsored by S&P Dow Jones Indices.", "align": "left", "font": "Liberation Sans Narrow, Roboto, sans-serif", "fontSize": 8, "color": "#8b94a3"}, "encoding": {"x": {"datum": 216.5, "type": "quantitative"}}},
        {"mark": {"type": "text", "text": "Disclaimer", "align": "right", "font": "Liberation Sans Narrow, Roboto, sans-serif", "fontSize": 8, "color": "#c3c9d2"}, "encoding": {"x": {"datum": 1188.4, "type": "quantitative"}}},
        {"mark": {"type": "text", "text": "© 2026 WhaleClues", "align": "right", "font": "Liberation Sans Narrow, Roboto, sans-serif", "fontSize": 8, "color": "#8b94a3"}, "encoding": {"x": {"datum": 1232, "type": "quantitative"}}}
      ]
    }
  ],
  "config": {
    "view": {"stroke": null},
    "axis": {"domain": false, "ticks": false, "grid": true, "gridColor": "#1b222e", "gridWidth": 1, "labelFont": "DejaVu Sans Mono", "labelFontSize": 8},
    "title": {"font": "Noto Sans", "fontSize": 11, "fontWeight": "bold", "color": "#eef0f3", "offset": 6}
  }
}
